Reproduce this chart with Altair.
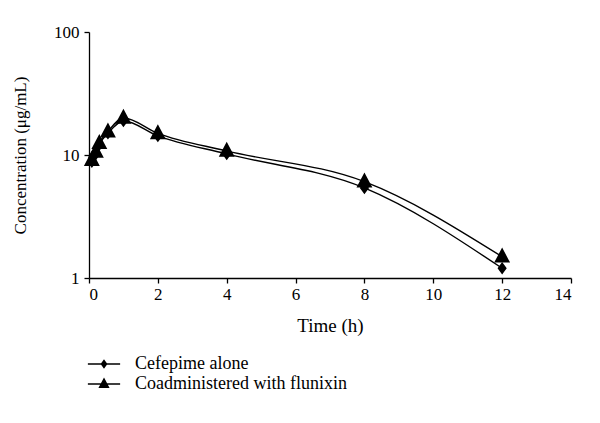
import altair as alt
import pandas as pd

times = [0.083, 0.2, 0.3, 0.55, 1, 2, 4, 8, 12]
alone = [8.8, 10.2, 12.1, 15.0, 18.9, 14.3, 10.2, 5.4, 1.2]
coadmin = [9.1, 10.6, 12.5, 15.5, 20.0, 15.0, 10.8, 6.07, 1.49]
series_names = ["Cefepime alone", "Coadministered with flunixin"]
x_ticks = [0, 2, 4, 6, 8, 10, 12, 14]
y_ticks = [1, 10, 100]

rows = []
for t, v in zip(times, alone):
    rows.append({"Time": t, "Conc": v, "Series": series_names[0]})
for t, v in zip(times, coadmin):
    rows.append({"Time": t, "Conc": v, "Series": series_names[1]})
df = pd.DataFrame(rows)

FONT = "Liberation Serif"

x = alt.X("Time:Q", scale=alt.Scale(domain=[0, 14], nice=False),
          axis=alt.Axis(values=x_ticks, title="Time (h)", grid=False,
                        tickSize=5, labelPadding=3, titlePadding=14,
                        titleFontSize=19, titleFontWeight="normal"))
y = alt.Y("Conc:Q", scale=alt.Scale(type="log", domain=[1, 100], nice=False),
          axis=alt.Axis(values=y_ticks, title="Concentration (μg/mL)", grid=False,
                        tickSize=5, labelPadding=5, titlePadding=24, format="d",
                        titleFontSize=17, titleFontWeight="normal"))

diamond_path = "M-3.4,0H3.4M0,-0.75L0.55,0L0,0.75L-0.55,0Z"
tri_path = "M-3.4,0H3.4M0,-1.1L0.95,0.7L-0.95,0.7Z"

legend = alt.Legend(
    title=None, orient="none", legendX=6, legendY=323,
    labelFont=FONT, labelFontSize=18, labelColor="black", labelLimit=500,
    labelOffset=22, rowPadding=2, symbolSize=90,
    symbolStrokeWidth=1.3, symbolStrokeColor="black", symbolFillColor="black",
)

lines = alt.Chart(df).mark_line(interpolate="monotone", strokeWidth=1.4).encode(
    x=x, y=y,
    color=alt.Color("Series:N", scale=alt.Scale(domain=series_names, range=["black", "black"]),
                    legend=legend),
)

points = alt.Chart(df).mark_point(filled=True, opacity=1, color="black", size=280).encode(
    x=x, y=y,
    shape=alt.Shape("Series:N", scale=alt.Scale(domain=series_names, range=[diamond_path, tri_path]),
                    legend=legend),
)

chart = alt.layer(lines, points).properties(
    width=482, height=246,
    autosize=alt.AutoSizeParams(type="none"),
    padding={"left": 81, "top": 24, "right": 21, "bottom": 137},
).configure_view(stroke=None).configure_axis(
    labelFont=FONT, titleFont=FONT, labelFontSize=17,
    titleFontWeight="normal", labelColor="black", titleColor="black",
    domainColor="black", tickColor="black", domainWidth=1.3, tickWidth=1.3,
)

chart.save("out.html", embed_options={"renderer": "svg", "actions": False})
